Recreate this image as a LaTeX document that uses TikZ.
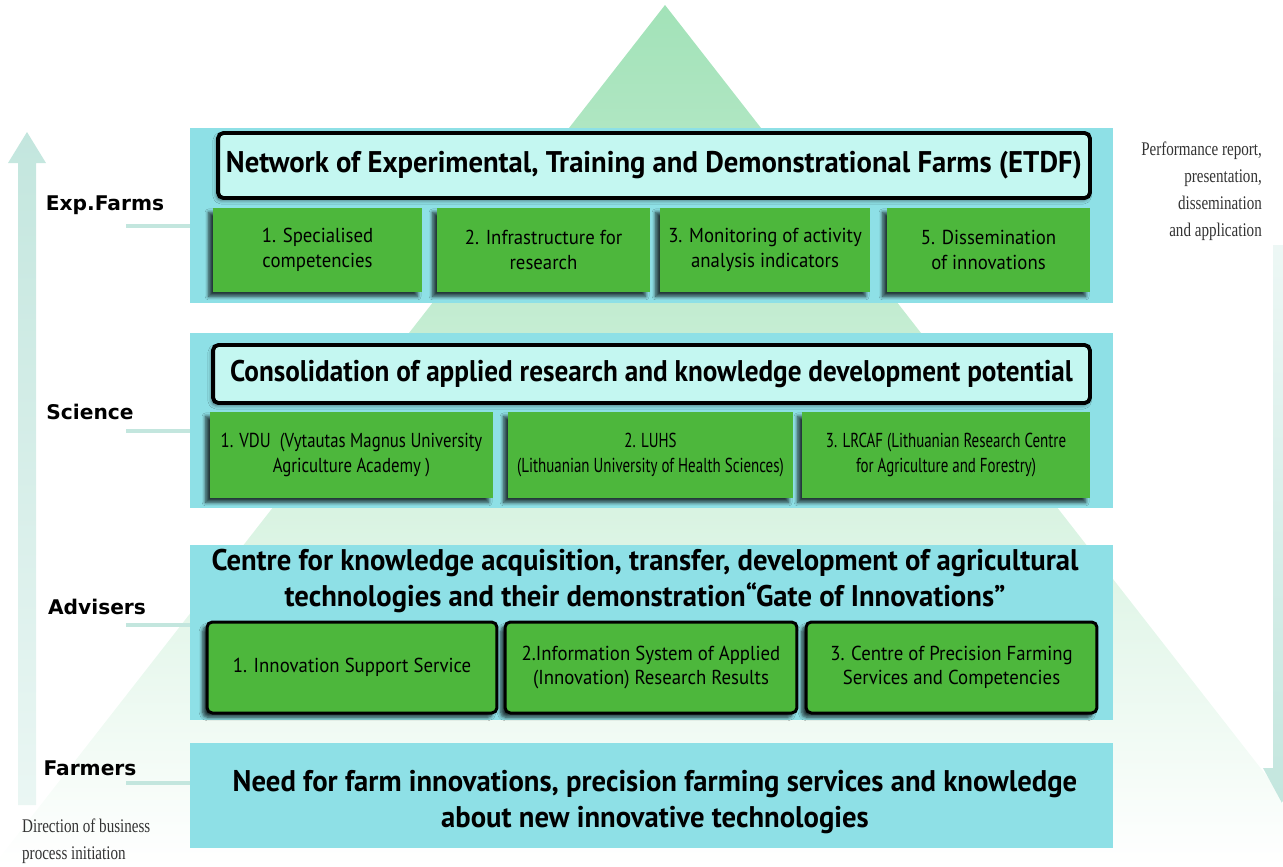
\documentclass[tikz,border=0pt]{standalone}
\usepackage{fontspec}
\setmainfont{PT Sans}
\newfontfamily\labelfont{DejaVu Sans}
\newfontfamily\headfont[FakeStretch=0.96]{PT Sans}
\newfontfamily\consolfont[FakeStretch=0.91]{PT Sans}
\newfontfamily\boxfont[FakeStretch=0.93]{PT Sans}
\newfontfamily\narrowfont[FakeStretch=0.83]{PT Sans}
\newfontfamily\narrowerfont[FakeStretch=0.74]{PT Sans}
\newfontfamily\notefont[FakeStretch=0.78]{Liberation Serif}
\usetikzlibrary{positioning,shadows.blur}

\definecolor{panelcyan}{HTML}{8EE0E6}
\definecolor{headcyan}{HTML}{C4F7F1}
\definecolor{boxgreen}{HTML}{4DB73C}
\definecolor{pyrgreen}{HTML}{A2E2B8}
\definecolor{arrowteal}{HTML}{C3E6DE}

\begin{document}
\begin{tikzpicture}[x=0.02cm, y=-0.02cm,
  panel/.style={fill=panelcyan, minimum width=18.46cm, inner sep=0pt},
  headbox/.style={draw=black, line width=2.2pt, rounded corners=3pt, fill=headcyan,
    inner sep=0pt, font=\headfont\fontsize{17}{20}\selectfont\bfseries,
    blur shadow={shadow xshift=-1pt, shadow yshift=-1.5pt, shadow opacity=50}},
  greenbox/.style={fill=boxgreen, inner sep=0pt, align=center,
    font=\boxfont\fontsize{11.5}{14}\selectfont,
    blur shadow={shadow xshift=-2.5pt, shadow yshift=-2.5pt, shadow blur steps=6, shadow opacity=75}},
  framedbox/.style={greenbox, draw=black, line width=1.7pt, rounded corners=3pt},
  bigtext/.style={align=center, font=\headfont\fontsize{17}{20}\selectfont\bfseries},
  sidelabel/.style={font=\labelfont\fontsize{11.5}{13}\selectfont\bfseries},
  note/.style={font=\notefont\fontsize{11}{15.3}\selectfont, text=black!80},
  link/.style={draw=arrowteal, line width=2.5pt}]

\useasboundingbox (0,0) rectangle (1283,866);

% background pyramid and side arrows
\begin{scope}
  \clip (0,0) rectangle (1283,866);
  \shade[top color=pyrgreen, bottom color=white] (665,5) -- (1337,866) -- (-7,866) -- cycle;
  \shade[top color=arrowteal, bottom color=arrowteal!35]
    (27,132) -- (46,163) -- (36,163) -- (36,805) -- (18,805) -- (18,163) -- (8,163) -- cycle;
  \shade[top color=arrowteal!30, bottom color=arrowteal]
    (1273,245) -- (1291,245) -- (1291,768) -- (1301,768) -- (1282,803) -- (1263,768) -- (1273,768) -- cycle;
\end{scope}

% level panels
\node[panel, minimum height=3.5cm] (farms) at (651.5,215.5) {};
\node[panel, minimum height=3.5cm] (science) at (651.5,420.5) {};
\node[panel, minimum height=3.5cm] (advisers) at (651.5,632.5) {};
\node[panel, minimum height=2.1cm] (farmers) at (651.5,795.5) {};

% Exp.Farms level
\node[headbox, minimum width=17.44cm, minimum height=1.3cm] (etdf) at (654,165.5)
  {Network of Experimental, Training and Demonstrational Farms (ETDF)};
\node[greenbox, minimum width=4.18cm, minimum height=1.68cm] (f1) at (317.5,250) {1. Specialised\\competencies};
\node[greenbox, minimum width=4.26cm, minimum height=1.68cm] (f2) at (543.5,250) {2. Infrastructure for\\research};
\node[greenbox, minimum width=4.2cm, minimum height=1.68cm] (f3) at (765,250) {3. Monitoring of activity\\analysis indicators};
\node[greenbox, minimum width=4.06cm, minimum height=1.68cm] (f5) at (988.5,250) {5. Dissemination\\of innovations};

% Science level
\node[headbox, font=\consolfont\fontsize{17}{20}\selectfont\bfseries, minimum width=17.54cm, minimum height=1.16cm] (consol) at (651.5,374)
  {Consolidation of applied research and knowledge development potential};
\node[greenbox, font=\narrowfont\fontsize{11.5}{14}\selectfont, minimum width=5.66cm, minimum height=1.72cm] (s1) at (351.5,455)
  {1. VDU~~(Vytautas Magnus University\\Agriculture Academy )};
\node[greenbox, font=\narrowerfont\fontsize{11.5}{14}\selectfont, minimum width=5.7cm, minimum height=1.72cm] (s2) at (650.5,455)
  {2. LUHS\\(Lithuanian University of Health Sciences)};
\node[greenbox, font=\narrowerfont\fontsize{11.5}{14}\selectfont, minimum width=5.76cm, minimum height=1.72cm] (s3) at (946,455)
  {3. LRCAF (Lithuanian Research Centre\\for Agriculture and Forestry)};

% Advisers level
\node[bigtext] (gate) at (645,581)
  {Centre for knowledge acquisition, transfer, development of agricultural\\technologies and their demonstration“Gate of Innovations”};
\node[framedbox, minimum width=5.8cm, minimum height=1.82cm] (a1) at (352,667.5) {1. Innovation Support Service};
\node[framedbox, minimum width=5.84cm, minimum height=1.82cm] (a2) at (651,667.5) {2.Information System of Applied\\(Innovation) Research Results};
\node[framedbox, minimum width=5.82cm, minimum height=1.82cm] (a3) at (951.5,667.5) {3. Centre of Precision Farming\\Services and Competencies};

% Farmers level
\node[bigtext] (need) at (655,802)
  {Need for farm innovations, precision farming services and knowledge\\about new innovative technologies};

% side labels
\node[sidelabel] (lexp) at (105,205) {Exp.Farms};
\node[sidelabel] (lsci) at (90,412) {Science};
\node[sidelabel] (ladv) at (97,607) {Advisers};
\node[sidelabel] (lfar) at (90,768) {Farmers};
\coordinate (cexp) at (126,226);
\coordinate (csci) at (126,431);
\coordinate (cadv) at (126,625);
\coordinate (cfar) at (126,783);
\draw[link] (cexp) -- (cexp -| farms.west);
\draw[link] (csci) -- (csci -| science.west);
\draw[link] (cadv) -- (cadv -| advisers.west);
\draw[link] (cfar) -- (cfar -| farmers.west);

% notes
\node[note, align=right, anchor=north east] (report) at (1268,136)
  {Performance report,\\presentation,\\dissemination\\and application};
\node[note, align=left, anchor=north west] (direction) at (16,813)
  {Direction of business\\process initiation};

\end{tikzpicture}
\end{document}
